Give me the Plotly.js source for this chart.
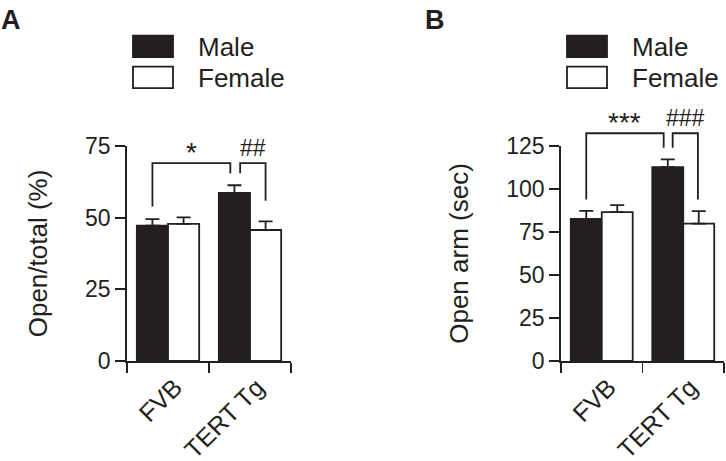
<!DOCTYPE html>
<html>
<head>
<meta charset="utf-8">
<script src="https://cdn.plot.ly/plotly-3.0.1.min.js"></script>
<style>html,body{margin:0;padding:0;background:#fff}#chart{width:726px;height:461px}</style>
</head>
<body>
<div id="chart"></div>
<script>
// ---- data ----
const categories = ['FVB', 'TERT Tg'];
const seriesNames = ['Male', 'Female'];
const panelLabels = ['A', 'B'];
const yTitles = ['Open/total (%)', 'Open arm (sec)'];

const openTotalMale = [47.2, 58.6];
const openTotalMaleErr = [2.3, 2.7];
const openTotalFemale = [47.8, 45.7];
const openTotalFemaleErr = [2.3, 3.0];

const openArmMale = [82.6, 112.7];
const openArmMaleErr = [4.7, 4.5];
const openArmFemale = [86.5, 79.9];
const openArmFemaleErr = [4.1, 7.2];

const ticksA = [0, 25, 50, 75];
const ticksB = [0, 25, 50, 75, 100, 125];

// significance brackets: leg x (axis units), y = [left leg end, bar height, right leg end]
const bracketA1X = [-0.19, 0.76];
const bracketA1Y = [53.9, 69.0, 65.5];
const bracketA1Label = '*';
const bracketA2X = [0.88, 1.19];
const bracketA2Y = [65.5, 69.0, 55.9];
const bracketA2Label = '##';

const bracketB1X = [-0.19, 0.76];
const bracketB1Y = [93.9, 132.4, 124.0];
const bracketB1Label = '***';
const bracketB2X = [0.87, 1.18];
const bracketB2Y = [124.0, 132.4, 93.9];
const bracketB2Label = '###';

// ---- styling / layout ----
const W = 726, H = 461;
const INK = '#231f20';
const FONT = '"Liberation Sans", Arial, Helvetica, sans-serif';
const px = v => v / W;
const py = v => 1 - v / H;

const yDom = [py(361), py(146)];
const tallTop = 0.98;
const xDomA = [px(127), px(291)];
const xDomB = [px(561), px(724)];
const catPos = categories.map((c, i) => i);
const bounds = [-0.5].concat(catPos.map(i => i + 0.5));

function barTrace(name, vals, errs, fill, xa, ya) {
  return {
    type: 'bar', name: name, x: catPos, y: vals,
    xaxis: xa, yaxis: ya, showlegend: false,
    marker: {color: fill, line: {color: INK, width: 1.8}},
    error_y: {type: 'data', symmetric: false, array: errs, arrayminus: errs.map(() => 0),
              color: INK, thickness: 1.8, width: 7},
    hoverinfo: 'skip'
  };
}
function bracketTrace(bx, by, xa, ya) {
  return {
    type: 'scatter', mode: 'lines', x: [bx[0], bx[0], bx[1], bx[1]],
    y: [by[0], by[1], by[1], by[2]], xaxis: xa, yaxis: ya, showlegend: false,
    line: {color: INK, width: 1.8}, hoverinfo: 'skip'
  };
}

const traces = [
  barTrace(seriesNames[0], openTotalMale, openTotalMaleErr, INK, 'x', 'y'),
  barTrace(seriesNames[1], openTotalFemale, openTotalFemaleErr, '#ffffff', 'x', 'y'),
  barTrace(seriesNames[0], openArmMale, openArmMaleErr, INK, 'x2', 'y2'),
  barTrace(seriesNames[1], openArmFemale, openArmFemaleErr, '#ffffff', 'x2', 'y2'),
  bracketTrace(bracketA1X, bracketA1Y, 'x', 'y3'),
  bracketTrace(bracketA2X, bracketA2Y, 'x', 'y3'),
  bracketTrace(bracketB1X, bracketB1Y, 'x2', 'y4'),
  bracketTrace(bracketB2X, bracketB2Y, 'x2', 'y4')
];

function catAxis(dom, anchor) {
  return {domain: dom, anchor: anchor, type: 'linear', range: [-0.5, categories.length - 0.5],
    showline: true, linecolor: INK, linewidth: 1.8,
    tickvals: catPos, ticktext: categories, ticks: '', tickangle: -45,
    ticklabelstandoff: 0, ticklabelshift: 7,
    tickfont: {size: 25, color: INK, family: FONT},
    minor: {tickvals: bounds, ticks: 'outside', ticklen: 10, tickwidth: 1.8, tickcolor: INK, showgrid: false},
    showgrid: false, zeroline: false, fixedrange: true};
}
function valueAxis(anchor, rng, tv, title) {
  return {domain: yDom, anchor: anchor, range: rng, tickvals: tv, showline: true, linecolor: INK,
    linewidth: 1.8, ticks: 'outside', ticklen: 10, tickwidth: 1.8, tickcolor: INK,
    tickfont: {size: 23, color: INK, family: FONT}, showgrid: false, zeroline: false, fixedrange: true,
    title: {text: title, font: {size: 26, color: INK, family: FONT}, standoff: 30}};
}
function tallAxis(anchor, top) {
  const r = top * (tallTop - yDom[0]) / (yDom[1] - yDom[0]);
  return {domain: [yDom[0], tallTop], anchor: anchor, range: [0, r], visible: false, fixedrange: true};
}

const annotations = [];
function sigLabel(bx, by, text, xa, ya, size, shift) {
  annotations.push({xref: xa, yref: ya, x: (bx[0] + bx[1]) / 2, y: by[1], text: text,
    showarrow: false, yanchor: 'bottom', yshift: shift, font: {size: size, color: INK, family: FONT}});
}
sigLabel(bracketA1X, bracketA1Y, bracketA1Label, 'x', 'y3', 28, -7);
sigLabel(bracketA2X, bracketA2Y, bracketA2Label, 'x', 'y3', 23, 0);
sigLabel(bracketB1X, bracketB1Y, bracketB1Label, 'x2', 'y4', 28, -7);
sigLabel(bracketB2X, bracketB2Y, bracketB2Label, 'x2', 'y4', 23, 0);

// panel letters
[[0, panelLabels[0]], [424, panelLabels[1]]].forEach(([xp, t]) => {
  annotations.push({xref: 'paper', yref: 'paper', x: px(xp - 1), y: py(3), xanchor: 'left', yanchor: 'top',
    text: '<b>' + t + '</b>', showarrow: false, font: {size: 27, color: INK, family: FONT}});
});

// legends (drawn per panel)
const shapes = [];
function legend(x0) {
  const fills = [INK, '#ffffff'];
  const tops = [35.7, 66.7];
  seriesNames.forEach((n, i) => {
    shapes.push({type: 'rect', xref: 'paper', yref: 'paper', x0: px(x0), x1: px(x0 + 40),
      y0: py(tops[i]), y1: py(tops[i] + 21.5), fillcolor: fills[i], line: {color: INK, width: 1.8}});
    annotations.push({xref: 'paper', yref: 'paper', x: px(x0 + 63), y: py(tops[i] + 11),
      xanchor: 'left', yanchor: 'middle', text: n, showarrow: false,
      font: {size: 26, color: INK, family: FONT}});
  });
}
legend(133);
legend(567);

const layout = {
  width: W, height: H, margin: {l: 0, r: 0, t: 0, b: 0},
  paper_bgcolor: '#ffffff', plot_bgcolor: 'rgba(0,0,0,0)',
  barmode: 'group', bargap: 0.24, bargroupgap: 0,
  showlegend: false,
  font: {family: FONT, color: INK},
  xaxis: catAxis(xDomA, 'y'),
  xaxis2: catAxis(xDomB, 'y2'),
  yaxis: valueAxis('x', [0, 75], ticksA, yTitles[0]),
  yaxis2: valueAxis('x2', [0, 125], ticksB, yTitles[1]),
  yaxis3: tallAxis('x', 75),
  yaxis4: tallAxis('x2', 125),
  shapes: shapes,
  annotations: annotations
};

Plotly.newPlot('chart', traces, layout, {staticPlot: true, displayModeBar: false});
</script>
</body>
</html>
